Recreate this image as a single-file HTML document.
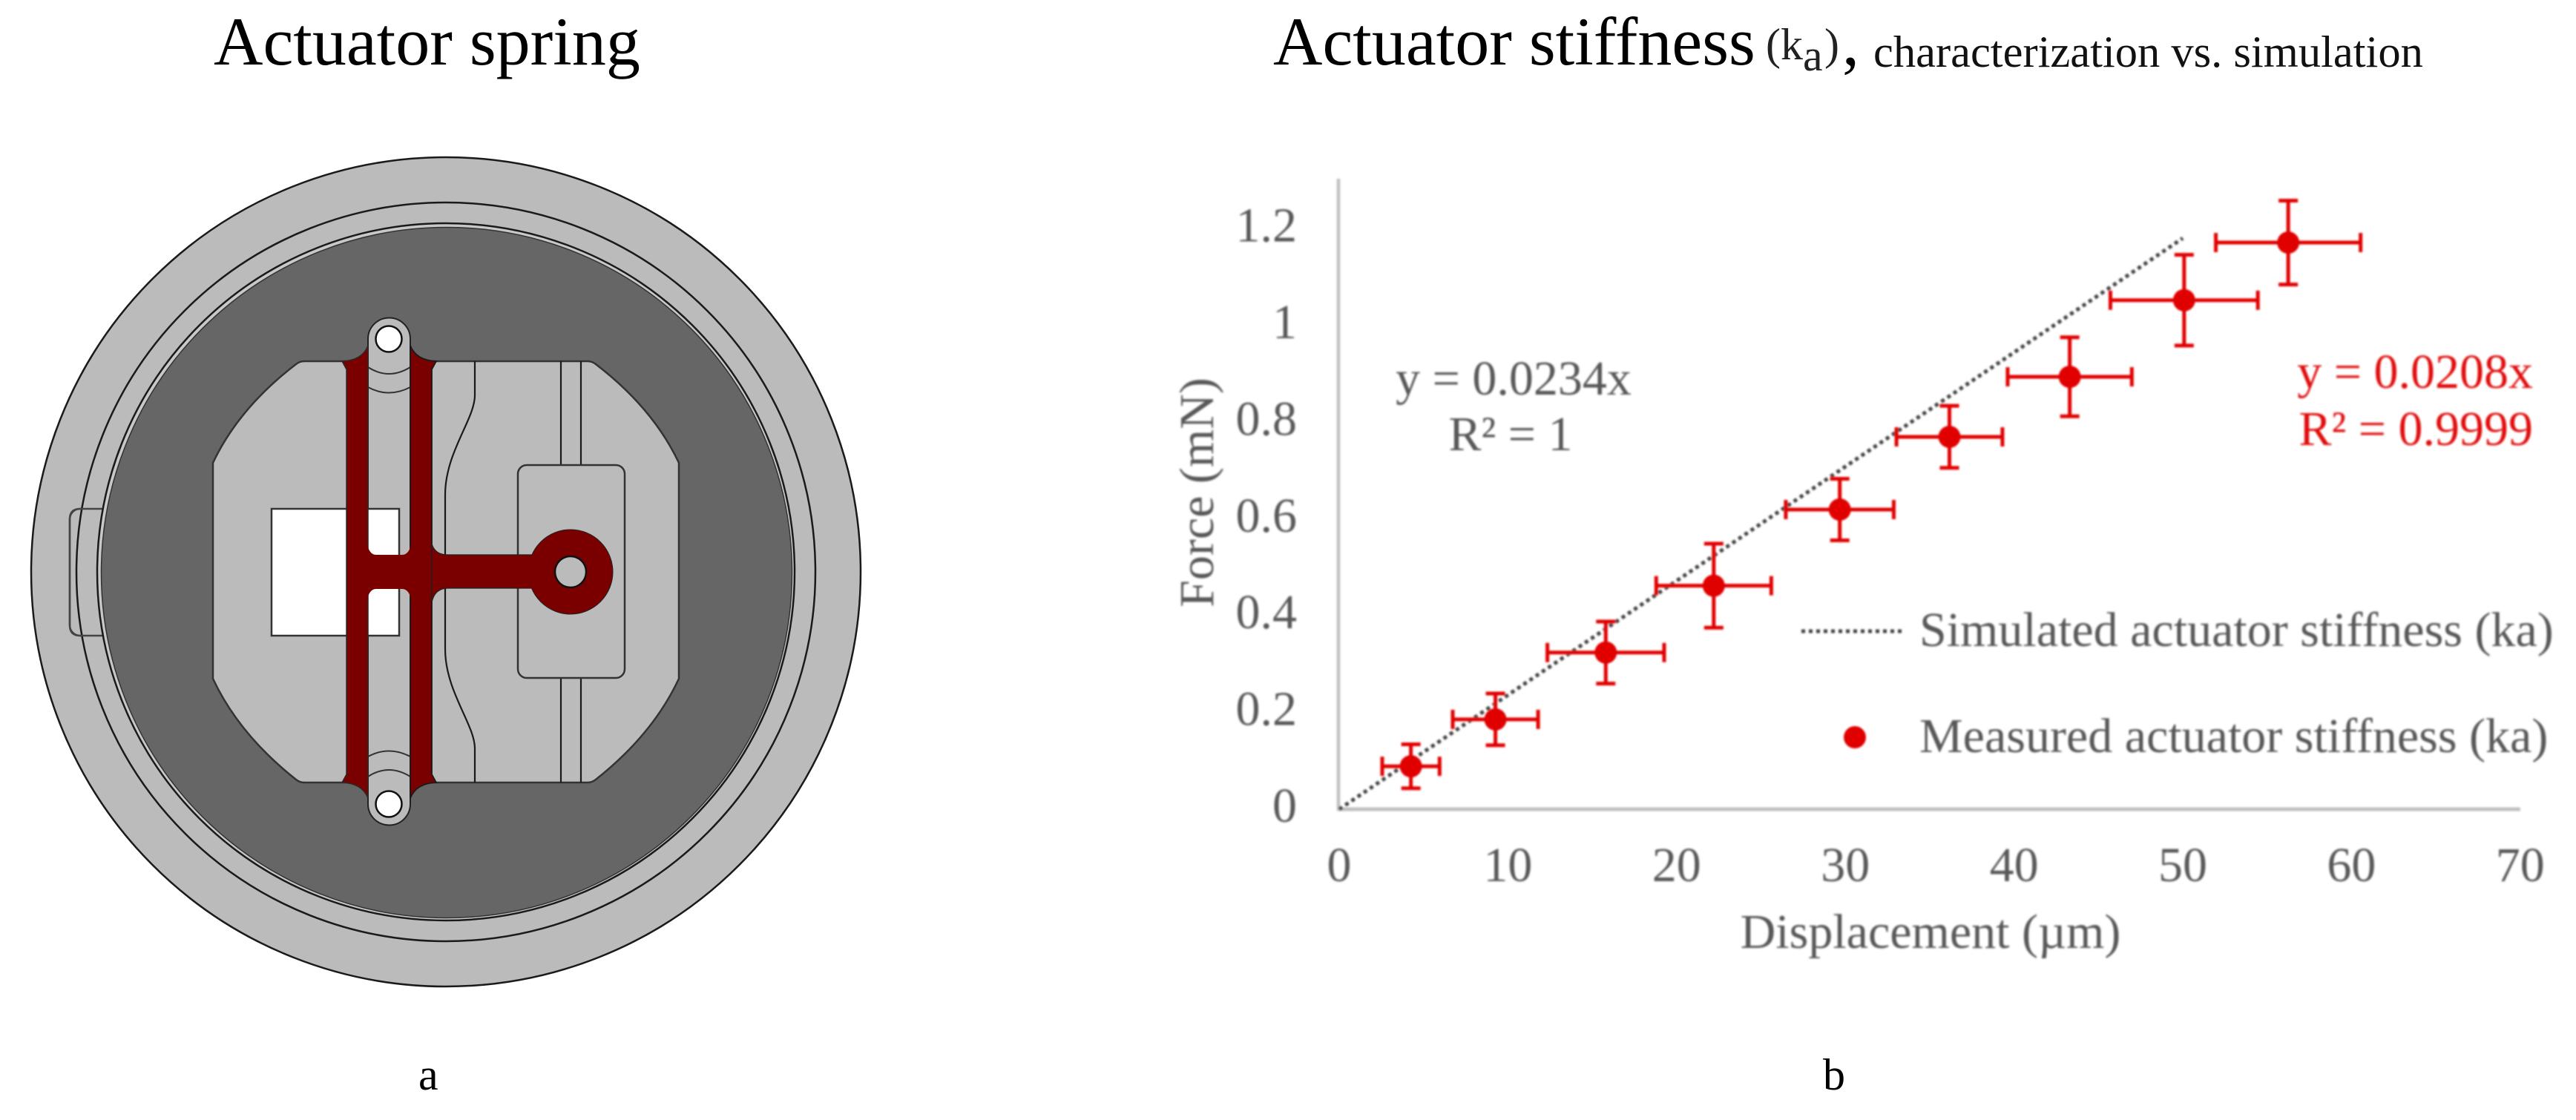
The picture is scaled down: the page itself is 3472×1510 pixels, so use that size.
<!DOCTYPE html>
<html lang="en">
<head>
<meta charset="utf-8">
<title>Actuator spring and stiffness</title>
<style>
html,body{margin:0;padding:0;background:#fff;}
svg{display:block;}
text{font-family:"Liberation Serif","Times New Roman",serif;}
</style>
</head>
<body>
<svg id="fig" width="3472" height="1510" viewBox="0 0 3472 1510" xmlns="http://www.w3.org/2000/svg">
<defs><filter id="soft" x="-5%" y="-5%" width="110%" height="110%"><feGaussianBlur stdDeviation="1.2"/></filter></defs>
<rect width="3472" height="1510" fill="#fff"/>

<text x="288" y="87" font-size="92" fill="#000">Actuator spring</text>
<text x="1716" y="87" font-size="92" fill="#000">Actuator stiffness</text>
<text x="2380" y="80" font-size="60" fill="#222">(k</text>
<text x="2430" y="95" font-size="60" fill="#222">a</text>
<text x="2459" y="80" font-size="60" fill="#222">)</text>
<text x="2483" y="87" font-size="92" fill="#000">,</text>
<text x="2525" y="90" font-size="60.5" fill="#111">characterization vs. simulation</text>
<text x="564" y="1469" font-size="60" fill="#000">a</text>
<text x="2457" y="1469" font-size="60" fill="#000">b</text>

<g id="spring">
  <circle cx="601" cy="771" r="559" fill="#bbbbbb" stroke="#1a1a1a" stroke-width="2.5"/>
  <rect x="94" y="686" width="70" height="171" rx="14" fill="none" stroke="#444" stroke-width="2.5"/>
  <circle cx="601" cy="771" r="498" fill="#bbbbbb" stroke="#1a1a1a" stroke-width="2.5"/>
  <path d="M94,771 V700 Q94,686 108,686 H142 V857 H108 Q94,857 94,843 Z" fill="none" stroke="#444" stroke-width="2.5"/>
  <circle cx="601" cy="771" r="470" fill="#c8c8c8" stroke="#1a1a1a" stroke-width="2.5"/>
  <circle cx="602" cy="772" r="465.5" fill="#666666" stroke="#333" stroke-width="1.5"/>
  <path d="M410,487 H792 Q798,487 803,491 Q880,550 915,624 V915 Q880,990 803,1051 Q798,1055 792,1055 H410 Q404,1055 399,1051 Q322,990 287,915 V624 Q322,550 399,491 Q404,487 410,487 Z" fill="#bbbbbb" stroke="#333" stroke-width="2.5"/>
  <path d="M640,487 V533 C640,565 600,610 600,667 V875 C600,932 640,977 640,1009 V1055" fill="none" stroke="#1a1a1a" stroke-width="2.2"/>
  <path d="M756,487 V627 M783,487 V627 M756,914 V1055 M783,914 V1055" fill="none" stroke="#1a1a1a" stroke-width="2.2"/>
  <rect x="698" y="627" width="144" height="287" rx="12" fill="#bbbbbb" stroke="#333" stroke-width="2.5"/>
  <path d="M496,457 A28,28 0 0 1 553,457 V1084 A28,28 0 0 1 496,1084 Z" fill="#bbbbbb" stroke="#222" stroke-width="2"/>
  <path d="M496,495 Q524,513 553,495 M496,522 Q524,537 553,522 M496,1047 Q524,1029 553,1047 M496,1020 Q524,1005 553,1020" fill="none" stroke="#333" stroke-width="2"/>
  <rect x="366" y="686" width="172" height="171" fill="#fff" stroke="#333" stroke-width="2.5"/>
  <circle cx="524" cy="457" r="17.5" fill="#fff" stroke="#111" stroke-width="2.5"/>
  <circle cx="524" cy="1084" r="17.5" fill="#fff" stroke="#111" stroke-width="2.5"/>
  <g fill="#7a0000">
    <path d="M461,487 Q488,486 496,466 V1076 Q488,1056 461,1055 L467,1044 V498 Z" stroke="#2a2a2a" stroke-width="1.5"/>
    <path d="M588,487 Q561,486 553,466 V1076 Q561,1056 588,1055 L582,1044 V498 Z" stroke="#1a1a1a" stroke-width="1.8"/>
    <path d="M494,730 Q497,748 507,748 H542 Q552,748 555,730 V812 Q552,794 542,794 H507 Q497,794 494,812 Z"/>
    <path d="M582,733 Q586,748 604,748 H730 V793 H604 Q586,793 582,812 Z" stroke="#222" stroke-width="1.2"/>
    <circle cx="769" cy="771" r="57" stroke="#222" stroke-width="1"/>
    <rect x="700" y="749" width="40" height="44"/>
  </g>
  <circle cx="769" cy="771" r="21" fill="#bbbbbb" stroke="#111" stroke-width="2.5"/>
</g>

<g id="chart" filter="url(#soft)"></g>
</svg>
<script>
var measuredX = [4.25, 9.26, 15.8, 22.2, 29.67, 36.17, 43.3, 50.08, 56.25];
var measuredY = [0.088, 0.184, 0.321, 0.458, 0.614, 0.763, 0.886, 1.043, 1.161];
var errorX = [1.7, 2.53, 3.46, 3.41, 3.2, 3.14, 3.68, 4.37, 4.29];
var errorY = [0.045, 0.053, 0.0635, 0.086, 0.063, 0.0635, 0.081, 0.093, 0.086];
var simulatedX = [0, 50];
var simulatedY = [0, 1.17];
var xTicks = [0, 10, 20, 30, 40, 50, 60, 70];
var yTicks = [0, 0.2, 0.4, 0.6, 0.8, 1, 1.2];
var yTickLabels = ['0', '0.2', '0.4', '0.6', '0.8', '1', '1.2'];

var NS = 'http://www.w3.org/2000/svg';
var chart = document.getElementById('chart');
function sx(v) { return 1805 + v * 22.74; }
function sy(v) { return 1091 - v * 658; }
function yLabelBaseline(v) { return 1108 - v * 652; }
function make(tag, props, parent) {
  var el = document.createElementNS(NS, tag);
  for (var k in props) { el.setAttribute(k, props[k]); }
  (parent || chart).appendChild(el);
  return el;
}
var RED = '#e00000';
var INK = '#595959';
function label(str, x, y, anchor, color, parent) {
  var t = make('text', { x: x, y: y, 'font-size': 66, fill: color || INK, 'text-anchor': anchor || 'start' }, parent);
  t.textContent = str;
  return t;
}

var yAxis = make('line', { x1: 1804, y1: 241, x2: 1804, y2: 1091, stroke: '#bfbfbf', 'stroke-width': 4.5 });


var xAxis = make('line', { x1: 1802, y1: 1091, x2: sx(70), y2: 1091, stroke: '#bfbfbf', 'stroke-width': 5 });



xTicks.forEach(function (v) {
  var t = label(String(v), sx(v), 1188, 'middle');
  
  
});
yTicks.forEach(function (v, i) {
  var t = label(yTickLabels[i], 1748, yLabelBaseline(v), 'end');
  
  
});

var xTitle = label('Displacement (µm)', 2602, 1278, 'middle');


var yTitle = label('Force (mN)', 0, 0, 'middle');
yTitle.setAttribute('transform', 'translate(1635,664) rotate(-90)');



var simLine = make('line', { x1: sx(simulatedX[0]), y1: sy(simulatedY[0]), x2: sx(simulatedX[1]), y2: sy(simulatedY[1]), stroke: '#404040', 'stroke-width': 5, 'stroke-dasharray': '5 5' });



measuredX.forEach(function (xv, i) {
  var g = make('g', {});
  
  
  var cx = sx(xv), cy = sy(measuredY[i]);
  var xl = sx(xv - errorX[i]), xr = sx(xv + errorX[i]);
  var yt = sy(measuredY[i] + errorY[i]), yb = sy(measuredY[i] - errorY[i]);
  var d = 'M' + xl + ',' + cy + 'H' + xr + 'M' + cx + ',' + yt + 'V' + yb +
          'M' + xl + ',' + (cy - 13) + 'V' + (cy + 13) + 'M' + xr + ',' + (cy - 13) + 'V' + (cy + 13) +
          'M' + (cx - 13) + ',' + yt + 'H' + (cx + 13) + 'M' + (cx - 13) + ',' + yb + 'H' + (cx + 13);
  var bars = make('path', { stroke: RED, 'stroke-width': 5, fill: 'none', d: d }, g);
  
  
  var dot = make('circle', { cx: cx, cy: cy, r: 15, fill: RED }, g);
  
  
});

var eqA = label('y = 0.0234x', 2040, 532, 'middle');


var eqB = label('R² = 1', 2036, 607, 'middle');


var eqC = label('y = 0.0208x', 3414, 523, 'end', '#e01010');


var eqD = label('R² = 0.9999', 3414, 600, 'end', '#e01010');



var legendLine = make('line', { x1: 2428, y1: 851, x2: 2563, y2: 851, stroke: '#404040', 'stroke-width': 5, 'stroke-dasharray': '5 5' });


var legendA = label('Simulated actuator stiffness (ka)', 2587, 871);


var legendDot = make('circle', { cx: 2500, cy: 994, r: 15, fill: RED });


var legendB = label('Measured actuator stiffness (ka)', 2587, 1014);


</script>
</body>
</html>
